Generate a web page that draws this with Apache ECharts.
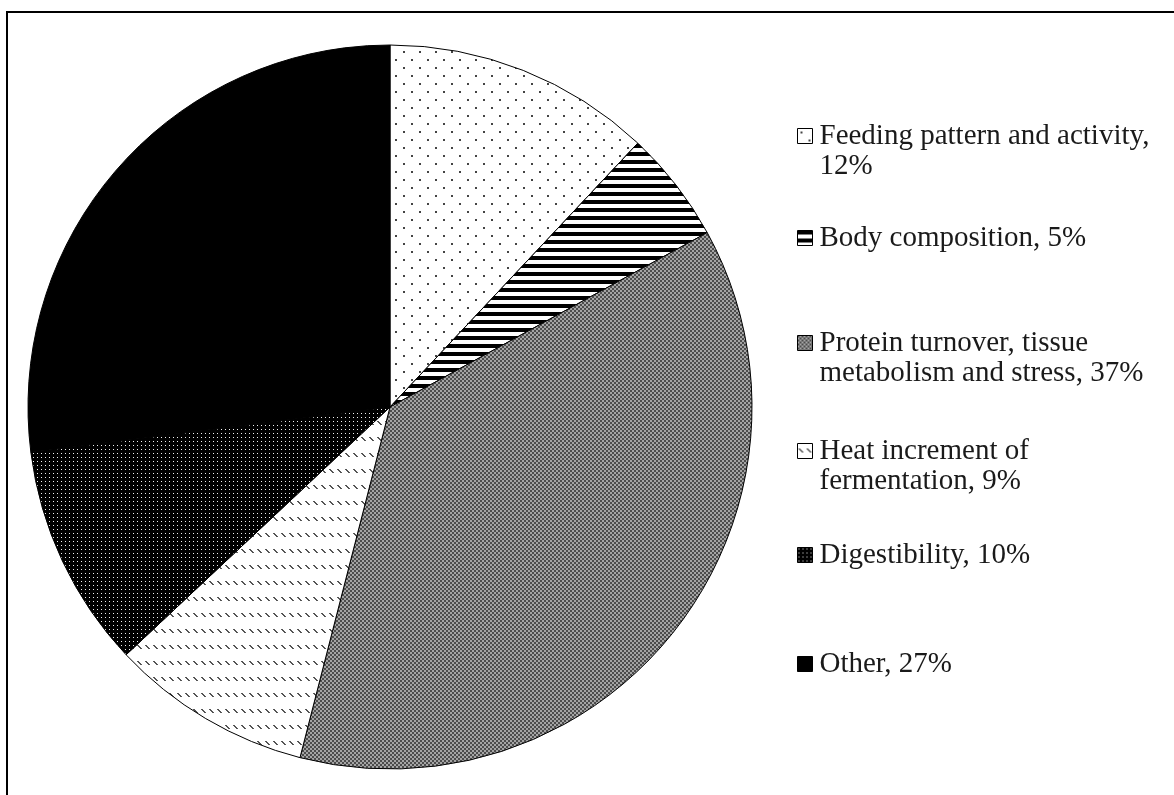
<!DOCTYPE html>
<html>
<head>
<meta charset="utf-8">
<script src="https://cdn.jsdelivr.net/npm/echarts@6/dist/echarts.min.js"></script>
<style>
  html, body { margin: 0; padding: 0; background: #fff; }
  #chart { width: 1174px; height: 795px; }
</style>
</head>
<body>
<div id="chart"></div>
<script>
// Share of heat production variation attributed to each factor (%)
const categories = [
  'Feeding pattern and activity',
  'Body composition',
  'Protein turnover, tissue metabolism and stress',
  'Heat increment of fermentation',
  'Digestibility',
  'Other'
];
const shares = [12, 5, 37, 9, 10, 27];

// ---- fill patterns (small repeating canvas tiles) ----
function tile(w, h, draw) {
  const c = document.createElement('canvas');
  c.width = w; c.height = h;
  const ctx = c.getContext('2d');
  draw(ctx, w, h);
  return { image: c, repeat: 'repeat' };
}

const patterns = [
  // sparse staggered dots on white
  tile(16, 16, (ctx) => {
    ctx.fillStyle = '#fff'; ctx.fillRect(0, 0, 16, 16);
    ctx.fillStyle = '#444';
    ctx.fillRect(3, 3, 2, 2);
    ctx.fillRect(11, 11, 2, 2);
  }),
  // horizontal black/white stripes
  tile(8, 8, (ctx) => {
    ctx.fillStyle = '#fff'; ctx.fillRect(0, 0, 8, 8);
    ctx.fillStyle = '#000'; ctx.fillRect(0, 0, 8, 4);
  }),
  // fine grey checkerboard
  tile(4, 4, (ctx) => {
    ctx.fillStyle = '#a4a4a4'; ctx.fillRect(0, 0, 4, 4);
    ctx.fillStyle = '#4c4c4c';
    ctx.fillRect(0, 0, 2, 2);
    ctx.fillRect(2, 2, 2, 2);
  }),
  // rows of short dashed downward diagonals
  tile(8, 16, (ctx) => {
    ctx.fillStyle = '#fff'; ctx.fillRect(0, 0, 8, 16);
    ctx.fillStyle = '#555';
    for (let i = 0; i < 4; i++) ctx.fillRect(1 + i, 5 + i, 2, 1);
  }),
  // black with small light dots
  tile(4, 4, (ctx) => {
    ctx.fillStyle = '#000'; ctx.fillRect(0, 0, 4, 4);
    ctx.fillStyle = '#f0f0f0'; ctx.fillRect(1, 1, 1, 1);
  }),
  // solid black
  '#000'
];

const chart = echarts.init(document.getElementById('chart'), null, { renderer: 'canvas' });

const fontFamily = '"Liberation Serif", "Times New Roman", serif';
const lineH = 30;

// one legend block per entry so each can be placed on its own row;
// wrapped entries get a leading blank line so the marker sits on the first line
const legendTops = [91, 223, 298, 406, 540, 649];
const twoLine = [true, false, true, true, false, false];

const legends = categories.map((name, i) => ({
  data: [name],
  orient: 'vertical',
  left: 797,
  top: legendTops[i],
  padding: 0,
  itemWidth: 15,
  itemHeight: 15,
  selectedMode: false,
  icon: 'rect',
  itemStyle: { borderColor: '#000', borderWidth: 1 },
  formatter: (n) => (twoLine[i] ? '\n' : '') + n + ', ' + shares[categories.indexOf(n)] + '%',
  textStyle: {
    fontFamily: fontFamily,
    fontSize: 29,
    color: '#1a1a1a',
    lineHeight: lineH,
    width: 345,
    overflow: 'break',
    padding: [0, 0, 0, 2]
  }
}));

chart.setOption({
  animation: false,
  backgroundColor: '#fff',
  legend: legends,
  graphic: [{
    type: 'rect',
    shape: { x: 7, y: 12, width: 1400, height: 1000 },
    style: { fill: 'none', stroke: '#000', lineWidth: 2 },
    silent: true,
    z: 100
  }],
  series: [{
    type: 'pie',
    center: [390, 407],
    radius: [0, 362],
    startAngle: 90,
    clockwise: true,
    silent: true,
    label: { show: false },
    labelLine: { show: false },
    emphasis: { disabled: true },
    itemStyle: { borderColor: '#000', borderWidth: 1 },
    data: categories.map((name, i) => ({
      name: name,
      value: shares[i],
      itemStyle: { color: patterns[i] }
    }))
  }]
});
</script>
</body>
</html>
